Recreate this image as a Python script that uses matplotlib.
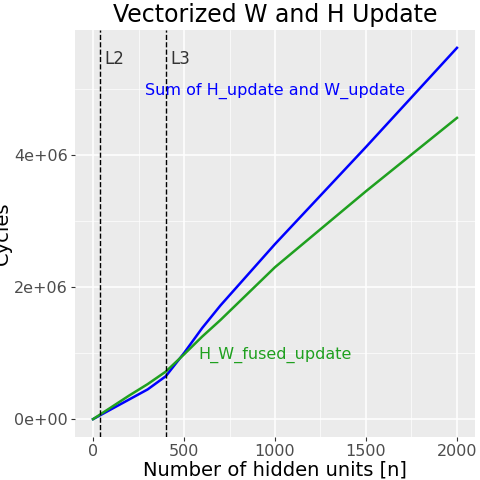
import matplotlib
matplotlib.use("Agg")
import matplotlib.pyplot as plt

n = [0, 100, 200, 300, 400, 500, 600, 700, 1000, 1500, 2000]
sum_upd = [0, 0.15e6, 0.3e6, 0.45e6, 0.65e6, 1.0e6, 1.38e6, 1.72e6, 2.65e6, 4.12e6, 5.62e6]
fused = [0, 0.18e6, 0.36e6, 0.53e6, 0.72e6, 0.98e6, 1.25e6, 1.5e6, 2.3e6, 3.45e6, 4.56e6]
cache_x = [40, 400]
cache_lbl = ["L2", "L3"]

fig = plt.figure(figsize=(4.8, 4.8), dpi=100)
ax = fig.add_axes([75/480, 43/480, 400/480, 407/480])
ax.set_facecolor("#EBEBEB")
for s in ax.spines.values():
    s.set_visible(False)
ax.set_xlim(-99, 2099)
ax.set_ylim(-0.27e6, 5.89e6)
ax.set_xticks([0, 500, 1000, 1500, 2000])
ax.set_yticks([0, 2e6, 4e6])
ax.set_yticklabels(["0e+00", "2e+06", "4e+06"])
ax.set_xticks([250, 750, 1250, 1750], minor=True)
ax.set_yticks([1e6, 3e6, 5e6], minor=True)
ax.grid(True, which="major", color="white", lw=1.1)
ax.grid(True, which="minor", color="white", lw=0.5)
ax.set_axisbelow(True)
ax.tick_params(which="both", length=3, color="#333333", labelsize=11.5, labelcolor="#4D4D4D", pad=2)
ax.tick_params(which="minor", length=0)

ax.plot(n, sum_upd, color="blue", lw=1.8)
ax.plot(n, fused, color="#1FA01F", lw=1.8)
for x, l in zip(cache_x, cache_lbl):
    ax.axvline(x, color="black", ls="--", lw=1)
    ax.text(x + 25, 5.45e6, l, fontsize=12, color="#333333", va="center")
ax.text(1000, 4.97e6, "Sum of H_update and W_update", color="blue", fontsize=11.5, ha="center", va="center")
ax.text(1000, 0.98e6, "H_W_fused_update", color="#1FA01F", fontsize=11.5, ha="center", va="center")
ax.set_title("Vectorized W and H Update", fontsize=17)
ax.set_xlabel("Number of hidden units [n]", fontsize=14, labelpad=1)
ax.set_ylabel("Cycles", fontsize=14, labelpad=2)
fig.savefig("out.png")
